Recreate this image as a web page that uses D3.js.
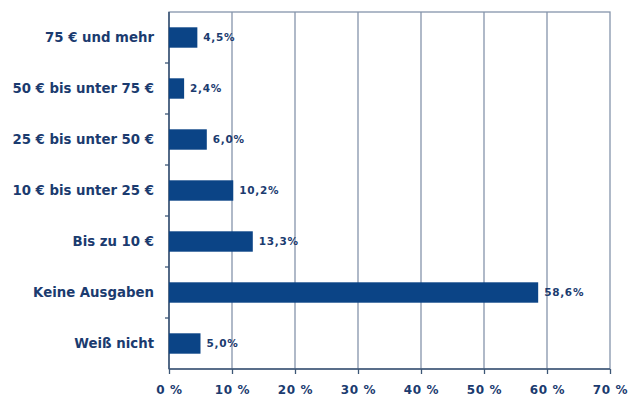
<!DOCTYPE html>
<html>
<head>
<meta charset="utf-8">
<script src="https://cdn.jsdelivr.net/npm/d3@7/dist/d3.min.js"></script>
<style>
  html, body { margin: 0; padding: 0; background: #ffffff; }
  svg { display: block; }
</style>
</head>
<body>
<svg id="chart" width="630" height="401"></svg>
<script>
// Monthly spending categories (top to bottom) and their shares in percent
const categories = [
  "75 € und mehr",
  "50 € bis unter 75 €",
  "25 € bis unter 50 €",
  "10 € bis unter 25 €",
  "Bis zu 10 €",
  "Keine Ausgaben",
  "Weiß nicht"
];
const values = [4.5, 2.4, 6.0, 10.2, 13.3, 58.6, 5.0];
const valueLabels = ["4,5%", "2,4%", "6,0%", "10,2%", "13,3%", "58,6%", "5,0%"];
const xTicks = [0, 10, 20, 30, 40, 50, 60, 70];
const xTickLabels = ["0 %", "10 %", "20 %", "30 %", "40 %", "50 %", "60 %", "70 %"];

const svg = d3.select("#chart");
const margin = { left: 169, right: 20, top: 12, bottom: 32 };
const W = 630, H = 401;
const innerW = W - margin.left - margin.right;
const innerH = H - margin.top - margin.bottom;

const textColor = "#1b3b6f";
const barColor = "#0b4486";
const gridColor = "#8594ab";
const frameColor = "#3c5676";
const font = "'DejaVu Sans', Verdana, sans-serif";

const x = d3.scaleLinear().domain([0, 70]).range([0, innerW]);
const y = d3.scaleBand().domain(categories).range([0, innerH]).paddingInner(0.6).paddingOuter(0.3);
const yBand = d3.scaleBand().domain(categories).range([0, innerH]);

const g = svg.append("g").attr("transform", `translate(${margin.left},${margin.top})`);

// vertical gridlines
g.selectAll("line.grid")
  .data(xTicks.slice(1, -1))
  .join("line")
  .attr("class", "grid")
  .attr("x1", d => x(d)).attr("x2", d => x(d))
  .attr("y1", 0).attr("y2", innerH)
  .attr("stroke", gridColor)
  .attr("stroke-width", 1.3);

// plot frame
g.append("rect")
  .attr("x", 0).attr("y", 0)
  .attr("width", innerW).attr("height", innerH)
  .attr("fill", "none")
  .attr("stroke", gridColor)
  .attr("stroke-width", 1.3);
g.append("line").attr("x1", 0).attr("x2", 0).attr("y1", 0).attr("y2", innerH)
  .attr("stroke", frameColor).attr("stroke-width", 1.6);
g.append("line").attr("x1", 0).attr("x2", innerW).attr("y1", innerH).attr("y2", innerH)
  .attr("stroke", frameColor).attr("stroke-width", 1.6);

// bars
g.selectAll("rect.bar")
  .data(categories)
  .join("rect")
  .attr("class", "bar")
  .attr("x", 0)
  .attr("y", d => y(d))
  .attr("width", (d, i) => x(values[i]))
  .attr("height", y.bandwidth())
  .attr("fill", barColor);

// value labels
g.selectAll("text.val")
  .data(categories)
  .join("text")
  .attr("class", "val")
  .attr("x", (d, i) => x(values[i]) + 6)
  .attr("y", d => y(d) + y.bandwidth() / 2)
  .attr("dy", "0.35em")
  .attr("fill", textColor)
  .attr("font-family", font)
  .attr("font-weight", "bold")
  .attr("font-size", 10.5)
  .attr("letter-spacing", 0.7)
  .text((d, i) => valueLabels[i]);

// category axis
const yAxis = g.append("g")
  .call(d3.axisLeft(yBand).tickSize(0).tickPadding(15));
yAxis.select(".domain").remove();
yAxis.selectAll("text")
  .attr("fill", textColor)
  .attr("font-family", font)
  .attr("font-weight", "bold")
  .attr("font-size", 13.3);

// small separator ticks between categories on the left axis
g.selectAll("line.sep")
  .data(categories.slice(1))
  .join("line")
  .attr("class", "sep")
  .attr("x1", -4).attr("x2", 0)
  .attr("y1", d => yBand(d)).attr("y2", d => yBand(d))
  .attr("stroke", frameColor)
  .attr("stroke-width", 1.3);

// value axis
const xAxis = g.append("g")
  .attr("transform", `translate(0,${innerH})`)
  .call(d3.axisBottom(x).tickValues(xTicks).tickFormat((d, i) => xTickLabels[i]).tickSize(5).tickPadding(11));
xAxis.select(".domain").remove();
xAxis.selectAll("line").attr("stroke", frameColor).attr("stroke-width", 1.3);
xAxis.selectAll("text")
  .attr("fill", textColor)
  .attr("font-family", font)
  .attr("font-weight", "bold")
  .attr("font-size", 12)
  .attr("letter-spacing", 0.6);
</script>
</body>
</html>
